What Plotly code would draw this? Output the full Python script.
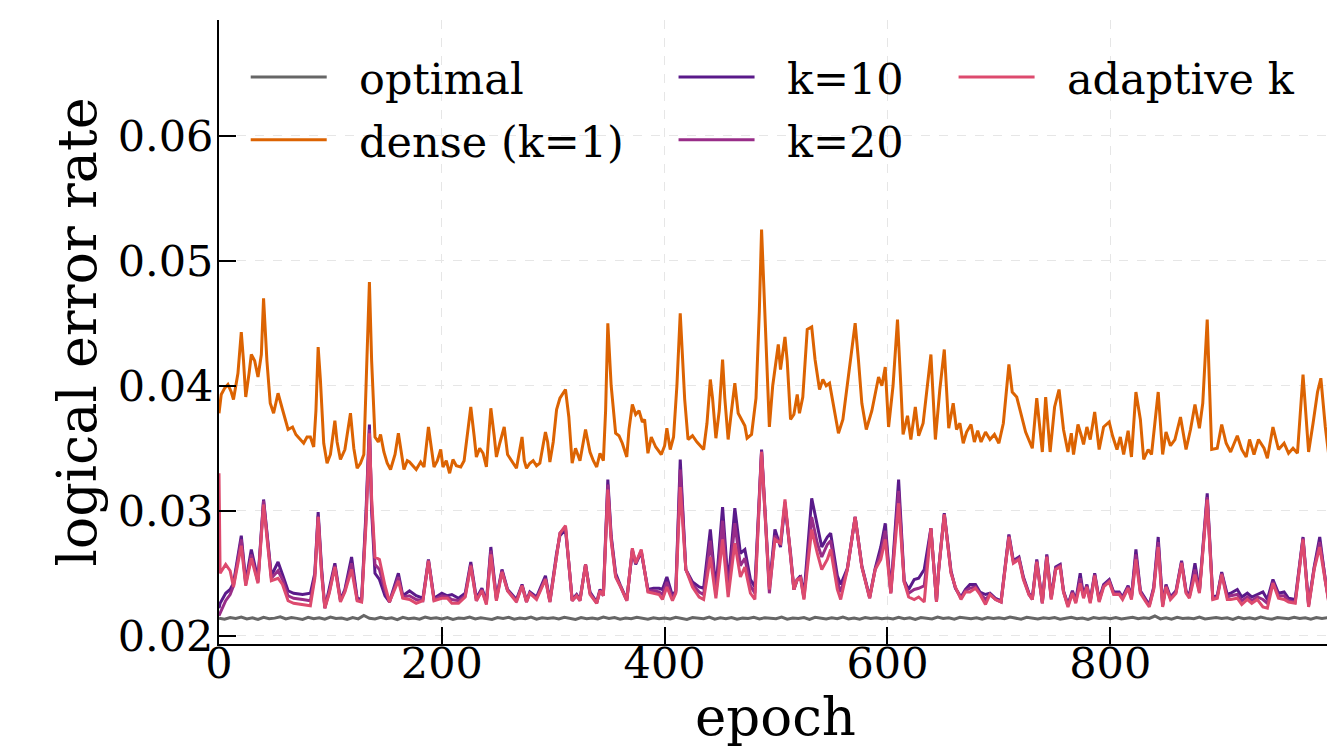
import plotly.graph_objects as go

# ---------------- data ----------------
OPT_EPOCH = list(range(0, 1000, 5))
OPTIMAL = [
    0.02140, 0.02132, 0.02146, 0.02138, 0.02150, 0.02135, 0.02143, 0.02130, 0.02148, 0.02137,
    0.02141, 0.02152, 0.02134, 0.02145, 0.02139, 0.02131, 0.02147, 0.02136, 0.02144, 0.02133,
    0.02149, 0.02138, 0.02142, 0.02130, 0.02146, 0.02135, 0.02162, 0.02140, 0.02134, 0.02147,
    0.02137, 0.02143, 0.02129, 0.02148, 0.02136, 0.02141, 0.02133, 0.02150, 0.02138, 0.02144,
    0.02135, 0.02146, 0.02131, 0.02142, 0.02138, 0.02149, 0.02134, 0.02143, 0.02137, 0.02130,
    0.02145, 0.02139, 0.02147, 0.02133, 0.02141, 0.02136, 0.02150, 0.02132, 0.02144, 0.02138,
    0.02143, 0.02135, 0.02148, 0.02140, 0.02131, 0.02146, 0.02137, 0.02142, 0.02134, 0.02149,
    0.02138, 0.02145, 0.02132, 0.02141, 0.02136, 0.02147, 0.02139, 0.02133, 0.02144, 0.02137,
    0.02142, 0.02134, 0.02148, 0.02138, 0.02131, 0.02145, 0.02140, 0.02136, 0.02150, 0.02133,
    0.02143, 0.02137, 0.02146, 0.02132, 0.02141, 0.02139, 0.02147, 0.02135, 0.02144, 0.02138,
    0.02136, 0.02149, 0.02133, 0.02142, 0.02138, 0.02145, 0.02131, 0.02147, 0.02140, 0.02134,
    0.02143, 0.02137, 0.02150, 0.02135, 0.02141, 0.02132, 0.02146, 0.02139, 0.02144, 0.02136,
    0.02141, 0.02135, 0.02148, 0.02137, 0.02143, 0.02131, 0.02146, 0.02139, 0.02134, 0.02149,
    0.02138, 0.02144, 0.02132, 0.02147, 0.02140, 0.02136, 0.02143, 0.02133, 0.02145, 0.02139,
    0.02144, 0.02136, 0.02150, 0.02138, 0.02132, 0.02147, 0.02141, 0.02135, 0.02143, 0.02139,
    0.02146, 0.02133, 0.02140, 0.02148, 0.02137, 0.02142, 0.02131, 0.02145, 0.02138, 0.02143,
    0.02137, 0.02146, 0.02134, 0.02141, 0.02148, 0.02136, 0.02143, 0.02139, 0.02158, 0.02135,
    0.02144, 0.02132, 0.02147, 0.02138, 0.02142, 0.02136, 0.02149, 0.02134, 0.02140, 0.02145,
    0.02138, 0.02143, 0.02131, 0.02147, 0.02137, 0.02144, 0.02135, 0.02150, 0.02139, 0.02133,
    0.02146, 0.02140, 0.02136, 0.02148, 0.02138, 0.02143, 0.02132, 0.02145, 0.02139, 0.02144,
]

DENSE_EPOCH = [
    0, 2, 5, 8, 11, 13, 17, 20, 22, 24,
    27, 29, 32, 35, 38, 40, 43, 46, 49, 53,
    57, 60, 62, 66, 69, 71, 74, 76, 79, 82,
    85, 87, 89, 91, 94, 97, 100, 104, 106, 109,
    113, 116, 118, 121, 124, 127, 130, 132, 135, 137,
    140, 143, 145, 148, 151, 154, 158, 161, 164, 166,
    169, 171, 174, 177, 181, 184, 188, 190, 193, 196,
    199, 201, 204, 207, 210, 213, 217, 220, 223, 226,
    229, 231, 234, 237, 240, 244, 247, 249, 252, 256,
    259, 263, 267, 272, 274, 276, 279, 282, 285, 288,
    293, 295, 297, 300, 303, 306, 311, 314, 317, 320,
    324, 329, 333, 336, 339, 342, 345, 347, 349, 352,
    356, 359, 362, 366, 368, 371, 374, 377, 380, 382,
    385, 388, 392, 397, 400, 402, 405, 408, 411, 414,
    418, 421, 425, 429, 435, 438, 441, 443, 446, 449,
    452, 454, 457, 460, 463, 466, 469, 472, 474, 478,
    482, 485, 487, 490, 494, 497, 499, 502, 504, 508,
    510, 513, 516, 519, 521, 524, 528, 532, 535, 539,
    542, 545, 548, 553, 556, 560, 565, 571, 574, 577,
    581, 586, 592, 595, 598, 601, 605, 609, 612, 614,
    618, 621, 625, 628, 632, 636, 639, 643, 647, 651,
    655, 659, 662, 665, 668, 671, 675, 678, 681, 684,
    688, 692, 696, 700, 704, 709, 712, 716, 720, 724,
    730, 734, 739, 742, 746, 750, 754, 758, 762, 765,
    767, 771, 774, 776, 779, 782, 786, 790, 794, 799,
    802, 806, 809, 812, 816, 819, 823, 827, 830, 834,
    837, 843, 847, 850, 854, 858, 863, 868, 872, 876,
    880, 883, 887, 891, 896, 900, 904, 908, 914, 918,
    922, 925, 929, 933, 938, 941, 946, 951, 956, 960,
    964, 968, 973, 978, 982, 986, 989, 993, 996, 999,
]
DENSE = [
    .0378, .0393, .0398, .0401, .0395, .0389, .0410, .0443, .0420, .0391,
    .0410, .0425, .0420, .0407, .0425, .0470, .0420, .0386, .0378, .0394,
    .0381, .0372, .0365, .0367, .0361, .0359, .0356, .0354, .0359, .0359,
    .0351, .0380, .0431, .0405, .0354, .0338, .0345, .0372, .0355, .0341,
    .0349, .0365, .0378, .0350, .0334, .0338, .0345, .0400, .0483, .0420,
    .0359, .0355, .0361, .0347, .0338, .0333, .0345, .0362, .0345, .0333,
    .0340, .0339, .0336, .0333, .0339, .0335, .0367, .0355, .0335, .0340,
    .0349, .0335, .0340, .0330, .0341, .0336, .0335, .0340, .0360, .0383,
    .0360, .0343, .0350, .0346, .0335, .0382, .0360, .0343, .0354, .0367,
    .0345, .0340, .0334, .0359, .0340, .0334, .0338, .0340, .0336, .0338,
    .0363, .0355, .0339, .0355, .0381, .0390, .0397, .0375, .0338, .0350,
    .0340, .0365, .0347, .0340, .0335, .0346, .0340, .0380, .0450, .0400,
    .0362, .0360, .0354, .0343, .0365, .0385, .0377, .0380, .0371, .0373,
    .0346, .0359, .0351, .0345, .0352, .0366, .0349, .0359, .0400, .0458,
    .0389, .0357, .0360, .0355, .0349, .0370, .0405, .0390, .0358, .0380,
    .0421, .0390, .0357, .0380, .0402, .0378, .0373, .0368, .0358, .0361,
    .0390, .0460, .0525, .0450, .0367, .0400, .0415, .0433, .0413, .0439,
    .0420, .0373, .0377, .0393, .0378, .0391, .0445, .0447, .0421, .0397,
    .0405, .0400, .0402, .0375, .0362, .0373, .0407, .0450, .0420, .0386,
    .0365, .0380, .0407, .0400, .0415, .0367, .0400, .0453, .0400, .0361,
    .0376, .0357, .0383, .0360, .0370, .0400, .0425, .0357, .0397, .0429,
    .0366, .0386, .0365, .0370, .0354, .0363, .0369, .0355, .0364, .0355,
    .0363, .0357, .0361, .0354, .0370, .0417, .0395, .0391, .0376, .0363,
    .0350, .0390, .0347, .0391, .0347, .0383, .0397, .0365, .0347, .0362,
    .0345, .0369, .0360, .0353, .0367, .0357, .0379, .0349, .0367, .0371,
    .0360, .0349, .0359, .0345, .0364, .0343, .0395, .0373, .0341, .0349,
    .0345, .0395, .0345, .0363, .0352, .0357, .0375, .0349, .0365, .0385,
    .0366, .0386, .0453, .0349, .0350, .0369, .0354, .0347, .0360, .0349,
    .0343, .0357, .0345, .0357, .0350, .0342, .0367, .0349, .0354, .0346,
    .0350, .0346, .0409, .0347, .0370, .0395, .0406, .0367, .0345, .0356,
]

SPARSE_EPOCH = [
    0, 1, 6, 10, 13, 20, 24, 29, 35, 40,
    47, 53, 57, 62, 67, 75, 82, 86, 89, 92,
    95, 99, 104, 109, 113, 119, 124, 128, 132, 135,
    137, 140, 144, 149, 153, 161, 165, 171, 177, 183,
    188, 193, 200, 205, 209, 215, 221, 226, 231, 236,
    240, 244, 249, 254, 259, 267, 272, 276, 279, 285,
    293, 297, 303, 306, 311, 314, 317, 321, 324, 329,
    333, 339, 342, 345, 349, 352, 356, 360, 366, 371,
    374, 379, 385, 390, 395, 398, 402, 407, 410, 414,
    419, 425, 431, 435, 441, 446, 452, 457, 463, 468,
    472, 477, 481, 487, 494, 499, 504, 508, 513, 516,
    519, 522, 525, 532, 537, 541, 546, 549, 555, 558,
    564, 571, 577, 584, 589, 594, 598, 603, 610, 615,
    619, 624, 628, 633, 639, 644, 646, 651, 657, 661,
    666, 670, 674, 679, 683, 688, 692, 697, 702, 704,
    709, 713, 718, 722, 727, 730, 734, 739, 743, 747,
    751, 755, 758, 762, 766, 769, 773, 776, 779, 782,
    786, 790, 794, 799, 803, 808, 811, 816, 819, 823,
    827, 832, 835, 839, 843, 847, 850, 854, 859, 864,
    868, 871, 876, 880, 887, 892, 896, 900, 905, 908,
    914, 918, 923, 927, 932, 937, 941, 946, 951, 956,
    960, 966, 973, 978, 983, 988, 993, 996, 999,
]
K10 = [
    .0222, .0226, .0234, .0237, .0242, .0280, .0243, .0269, .0245, .0309,
    .0248, .0259, .0249, .0236, .0234, .0233, .0234, .0250, .0299, .0255,
    .0222, .0237, .0258, .0229, .0237, .0263, .0230, .0229, .0300, .0369,
    .0300, .0250, .0245, .0232, .0227, .0250, .0232, .0236, .0232, .0230,
    .0261, .0230, .0234, .0232, .0233, .0230, .0234, .0259, .0230, .0238,
    .0227, .0271, .0230, .0253, .0237, .0229, .0241, .0228, .0235, .0231,
    .0248, .0228, .0266, .0280, .0285, .0258, .0229, .0233, .0229, .0257,
    .0235, .0227, .0237, .0233, .0325, .0280, .0250, .0241, .0229, .0268,
    .0257, .0267, .0237, .0238, .0238, .0237, .0247, .0232, .0236, .0341,
    .0253, .0243, .0239, .0238, .0285, .0237, .0303, .0241, .0302, .0266,
    .0269, .0245, .0239, .0349, .0239, .0285, .0271, .0305, .0266, .0237,
    .0245, .0248, .0232, .0310, .0287, .0271, .0279, .0282, .0248, .0241,
    .0254, .0295, .0256, .0231, .0254, .0271, .0290, .0235, .0325, .0244,
    .0237, .0245, .0246, .0253, .0286, .0228, .0254, .0298, .0252, .0238,
    .0231, .0237, .0241, .0241, .0235, .0233, .0234, .0230, .0228, .0242,
    .0281, .0260, .0263, .0247, .0234, .0230, .0261, .0227, .0265, .0231,
    .0255, .0257, .0236, .0225, .0236, .0228, .0250, .0232, .0241, .0228,
    .0250, .0229, .0241, .0245, .0235, .0235, .0231, .0240, .0231, .0269,
    .0236, .0229, .0225, .0239, .0279, .0225, .0241, .0231, .0236, .0260,
    .0236, .0232, .0258, .0236, .0314, .0231, .0232, .0251, .0233, .0234,
    .0237, .0231, .0234, .0231, .0233, .0235, .0229, .0245, .0234, .0235,
    .0230, .0229, .0279, .0225, .0255, .0279, .0244, .0229, .0237,
]
K20 = [
    .0216, .0218, .0228, .0233, .0240, .0277, .0241, .0265, .0243, .0308,
    .0246, .0252, .0245, .0232, .0230, .0229, .0228, .0248, .0296, .0252,
    .0223, .0235, .0256, .0228, .0236, .0258, .0229, .0228, .0295, .0365,
    .0305, .0257, .0253, .0236, .0227, .0247, .0231, .0232, .0229, .0228,
    .0260, .0229, .0232, .0231, .0229, .0228, .0232, .0257, .0228, .0237,
    .0226, .0268, .0229, .0252, .0236, .0228, .0240, .0227, .0234, .0230,
    .0246, .0227, .0266, .0282, .0287, .0260, .0228, .0232, .0228, .0257,
    .0234, .0226, .0236, .0232, .0321, .0278, .0248, .0240, .0228, .0269,
    .0258, .0268, .0236, .0236, .0235, .0233, .0243, .0230, .0235, .0333,
    .0253, .0241, .0235, .0233, .0276, .0233, .0292, .0236, .0290, .0256,
    .0262, .0240, .0234, .0348, .0234, .0280, .0273, .0307, .0266, .0237,
    .0245, .0247, .0230, .0295, .0274, .0263, .0273, .0276, .0243, .0235,
    .0253, .0295, .0255, .0230, .0253, .0266, .0284, .0234, .0316, .0243,
    .0234, .0237, .0238, .0240, .0286, .0227, .0253, .0297, .0251, .0238,
    .0230, .0236, .0238, .0239, .0234, .0229, .0233, .0229, .0227, .0241,
    .0280, .0259, .0262, .0246, .0233, .0229, .0260, .0226, .0264, .0230,
    .0254, .0256, .0235, .0224, .0235, .0227, .0246, .0231, .0240, .0227,
    .0249, .0228, .0240, .0244, .0234, .0234, .0230, .0239, .0230, .0265,
    .0235, .0228, .0224, .0238, .0275, .0224, .0240, .0230, .0235, .0259,
    .0235, .0231, .0253, .0235, .0311, .0230, .0231, .0250, .0231, .0232,
    .0233, .0228, .0231, .0228, .0231, .0229, .0226, .0243, .0232, .0232,
    .0228, .0227, .0278, .0224, .0254, .0275, .0243, .0228, .0236,
]
ADAPTIVE = [
    .0330, .0250, .0257, .0252, .0239, .0272, .0240, .0262, .0242, .0305,
    .0244, .0246, .0241, .0228, .0226, .0225, .0224, .0246, .0295, .0250,
    .0222, .0234, .0255, .0227, .0235, .0253, .0228, .0227, .0290, .0362,
    .0310, .0263, .0261, .0240, .0227, .0244, .0230, .0229, .0226, .0228,
    .0260, .0228, .0230, .0230, .0226, .0226, .0231, .0256, .0228, .0236,
    .0225, .0265, .0228, .0251, .0236, .0227, .0240, .0227, .0234, .0229,
    .0245, .0227, .0266, .0282, .0288, .0261, .0228, .0232, .0228, .0257,
    .0233, .0226, .0236, .0232, .0317, .0276, .0247, .0240, .0228, .0270,
    .0258, .0269, .0235, .0234, .0233, .0229, .0239, .0228, .0234, .0319,
    .0253, .0239, .0231, .0229, .0263, .0230, .0277, .0231, .0274, .0247,
    .0255, .0234, .0229, .0347, .0237, .0277, .0274, .0309, .0266, .0237,
    .0245, .0246, .0229, .0285, .0266, .0253, .0261, .0269, .0237, .0229,
    .0253, .0295, .0255, .0230, .0253, .0261, .0277, .0234, .0306, .0243,
    .0231, .0229, .0231, .0227, .0286, .0227, .0253, .0297, .0250, .0239,
    .0229, .0235, .0235, .0238, .0233, .0225, .0233, .0229, .0227, .0241,
    .0279, .0258, .0261, .0245, .0233, .0229, .0259, .0226, .0263, .0229,
    .0253, .0255, .0235, .0223, .0234, .0226, .0242, .0230, .0239, .0226,
    .0248, .0227, .0239, .0243, .0233, .0233, .0229, .0238, .0229, .0261,
    .0234, .0227, .0223, .0237, .0271, .0223, .0239, .0229, .0234, .0258,
    .0234, .0230, .0249, .0234, .0309, .0229, .0230, .0249, .0229, .0229,
    .0230, .0225, .0229, .0226, .0229, .0223, .0222, .0242, .0230, .0229,
    .0227, .0226, .0277, .0223, .0253, .0271, .0242, .0227, .0235,
]

X_TICKS = [0, 200, 400, 600, 800]
Y_TICKS = [0.02, 0.03, 0.04, 0.05, 0.06]

assert len(OPT_EPOCH) == len(OPTIMAL)
assert len(DENSE_EPOCH) == len(DENSE)
assert len(SPARSE_EPOCH) == len(K10) == len(K20) == len(ADAPTIVE)

# ---------------- figure ----------------
FONT = "DejaVu Serif"
LW = 3
PAD = "\u00a0\u00a0"   # gap between legend line and legend text

fig = go.Figure()
fig.add_trace(go.Scatter(x=OPT_EPOCH, y=OPTIMAL, mode="lines", name=PAD + "optimal",
                         line=dict(color="#666666", width=LW), legend="legend", legendgroup="a"))
fig.add_trace(go.Scatter(x=DENSE_EPOCH, y=DENSE, mode="lines", name=PAD + "dense (k=1)",
                         line=dict(color="#dc6302", width=LW), legend="legend", legendgroup="b"))
fig.add_trace(go.Scatter(x=SPARSE_EPOCH, y=K10, mode="lines", name=PAD + "k=10",
                         line=dict(color="#5a1a8a", width=LW), legend="legend2", legendgroup="c"))
fig.add_trace(go.Scatter(x=SPARSE_EPOCH, y=K20, mode="lines", name=PAD + "k=20",
                         line=dict(color="#982d88", width=LW), legend="legend2", legendgroup="d"))
fig.add_trace(go.Scatter(x=SPARSE_EPOCH, y=ADAPTIVE, mode="lines", name=PAD + "adaptive k",
                         line=dict(color="#dd4a6e", width=LW), legend="legend3", legendgroup="e"))

axis_common = dict(
    ticks="inside", ticklen=17, tickwidth=2, tickcolor="black",
    showline=True, linewidth=2, linecolor="black", mirror=False,
    showgrid=True, gridcolor="#e6e6e6", griddash="dash", gridwidth=1,
    zeroline=False, automargin=False,
    tickfont=dict(family=FONT, size=43, color="black"),
)

fig.update_xaxes(range=[0, 999], tickvals=X_TICKS, ticktext=[str(v) for v in X_TICKS],
                 ticklabelstandoff=-20,
                 title=dict(text="epoch", font=dict(family=FONT, size=53, color="black"), standoff=13),
                 **axis_common)
fig.update_yaxes(range=[0.01934, 0.06926], tickvals=Y_TICKS, tickformat=".2f",
                 ticklabelstandoff=-5,
                 title=dict(text="logical error rate", font=dict(family=FONT, size=54, color="black"), standoff=4),
                 **axis_common)

leg_common = dict(font=dict(family=FONT, size=43, color="black"), bgcolor="rgba(0,0,0,0)",
                  itemwidth=76, tracegroupgap=4, orientation="v", xanchor="left", yanchor="top")

# the page body has an 8 px default margin, so the figure is 8 px smaller and
# the margins are shifted by 8 px to put the plot area where the reference has it
fig.update_layout(
    width=1327, height=739,
    margin=dict(l=211, r=3, t=12, b=103),
    plot_bgcolor="white", paper_bgcolor="white",
    font=dict(family=FONT, color="black"),
    showlegend=True,
    legend=dict(x=0.024, y=0.964, **leg_common),
    legend2=dict(x=0.4084, y=0.964, **leg_common),
    legend3=dict(x=0.660, y=0.964, **leg_common),
)

fig.write_html("out.html")
